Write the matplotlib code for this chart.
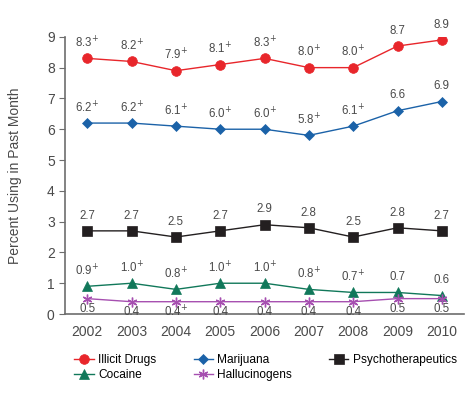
import matplotlib
matplotlib.use("Agg")
from matplotlib import pyplot as plt

plt.rcParams['font.family'] = ['Liberation Sans', 'DejaVu Sans']

years = [2002, 2003, 2004, 2005, 2006, 2007, 2008, 2009, 2010]

illicit = [8.3, 8.2, 7.9, 8.1, 8.3, 8.0, 8.0, 8.7, 8.9]
illicit_plus = [1, 1, 1, 1, 1, 1, 1, 0, 0]
marijuana = [6.2, 6.2, 6.1, 6.0, 6.0, 5.8, 6.1, 6.6, 6.9]
marijuana_plus = [1, 1, 1, 1, 1, 1, 1, 0, 0]
psycho = [2.7, 2.7, 2.5, 2.7, 2.9, 2.8, 2.5, 2.8, 2.7]
psycho_plus = [0, 0, 0, 0, 0, 0, 0, 0, 0]
cocaine = [0.9, 1.0, 0.8, 1.0, 1.0, 0.8, 0.7, 0.7, 0.6]
cocaine_plus = [1, 1, 1, 1, 1, 1, 1, 0, 0]
halluc = [0.5, 0.4, 0.4, 0.4, 0.4, 0.4, 0.4, 0.5, 0.5]
halluc_plus = [0, 0, 1, 0, 0, 0, 0, 0, 0]

text_col = '#4a4a4a'
axis_col = '#6d6d6d'

fig = plt.figure(figsize=(4.72, 3.96), dpi=100)
ax = fig.add_axes([0.138, 0.207, 0.845, 0.700])

series = [
    ('Illicit Drugs', illicit, illicit_plus, '#e8262b', 'o', 7, 1),
    ('Cocaine', cocaine, cocaine_plus, '#11785a', '^', 7, 1),
    ('Marijuana', marijuana, marijuana_plus, '#1b62a8', 'D', 5.5, 1),
    ('Hallucinogens', halluc, halluc_plus, '#a64fb0', (6, 2, 0), 7, -1),
    ('Psychotherapeutics', psycho, psycho_plus, '#231f20', 's', 6.5, 1),
]

for name, vals, plus, col, mk, ms, side in series:
    ax.plot(years, vals, color=col, marker=mk, markersize=ms, lw=1.0,
            markeredgewidth=1.0 if mk == (6, 2, 0) else 0.5, label=name)
    for x, v, p in zip(years, vals, plus):
        s = f"{v:.1f}" + ("$^{+}$" if p else "")
        off = 11 if side > 0 else -7.5
        ax.annotate(s, (x, v), xytext=(0, off), textcoords='offset points',
                    ha='center', va='center', fontsize=8.3, color=text_col)

ax.set_xlim(2001.5, 2010.5)
ax.set_ylim(0, 9)
ax.set_xticks(years)
ax.set_yticks(range(10))
ax.tick_params(axis='x', length=0, labelsize=10, labelcolor=text_col, pad=8)
ax.tick_params(axis='y', length=4, color=axis_col, labelsize=10, labelcolor=text_col)
for s in ['top', 'right']:
    ax.spines[s].set_visible(False)
for s in ['left', 'bottom']:
    ax.spines[s].set_color(axis_col)
    ax.spines[s].set_linewidth(1.2)
ax.set_ylabel('Percent Using in Past Month', fontsize=10, color=text_col, labelpad=18)

fig.legend(loc='lower left', bbox_to_anchor=(0.135, 0.01), ncol=3, frameon=False,
           fontsize=8.6, handlelength=1.6, columnspacing=3.1, labelspacing=0.3,
           handletextpad=0.4)

fig.savefig('out.png', dpi=100)
